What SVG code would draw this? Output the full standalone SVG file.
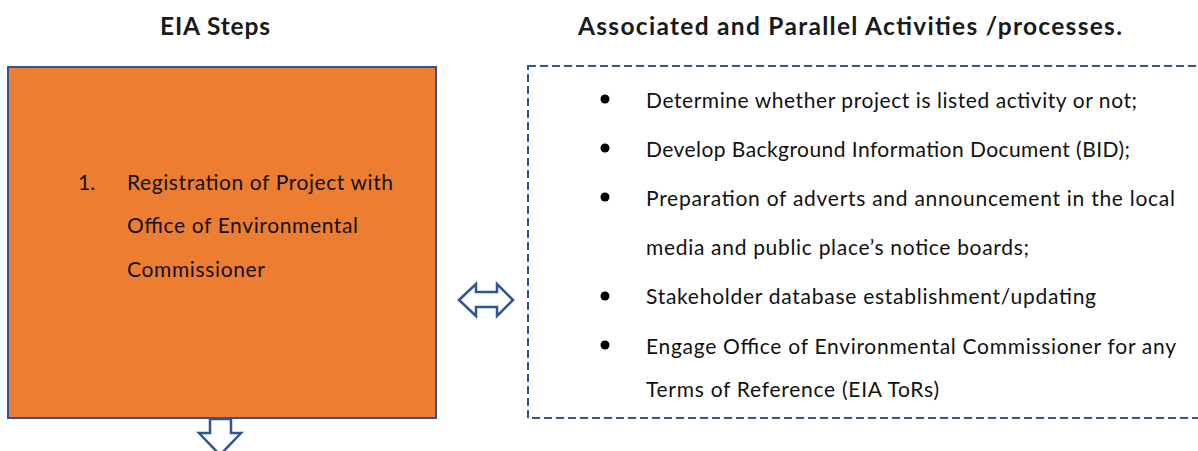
<svg xmlns="http://www.w3.org/2000/svg" width="1198" height="451" viewBox="0 0 1198 451">
<style>
.head{font-family:Lato,"Liberation Sans",sans-serif;font-weight:bold;font-size:24.5px;fill:#1a1a1a}
.body{font-family:Lato,"Liberation Sans",sans-serif;font-size:21px;fill:#111}
.arrow{fill:#fff;stroke:#2F5597;stroke-width:2.5;stroke-linejoin:miter}
</style>
<rect width="1198" height="451" fill="#fff"/>
<g id="headings">
<text class="head" x="160" y="35" textLength="110">EIA Steps</text>
<text class="head" x="578" y="35" textLength="544">Associated and Parallel Activities /processes.</text>
</g>
<g id="step1">
<rect x="8" y="67" width="428" height="351" fill="#ED7D31" stroke="#2F5597" stroke-width="2"/>
<text class="body" x="78" y="190">1.</text>
<text class="body" x="127" y="190" textLength="266">Registration of Project with</text>
<text class="body" x="127" y="233" textLength="231">Office of Environmental</text>
<text class="body" x="127" y="277" textLength="138">Commissioner</text>
</g>
<g id="activities">
<rect x="528" y="66" width="700" height="352" fill="none" stroke="#2F5597" stroke-width="2" stroke-dasharray="8,4"/>
<g fill="#000">
<circle cx="605" cy="99" r="4.5"/>
<circle cx="605" cy="148" r="4.5"/>
<circle cx="605" cy="197" r="4.5"/>
<circle cx="605" cy="296" r="4.5"/>
<circle cx="605" cy="345" r="4.5"/>
</g>
<text class="body" x="646" y="108" textLength="491">Determine whether project is listed activity or not;</text>
<text class="body" x="646" y="157" textLength="484">Develop Background Information Document (BID);</text>
<text class="body" x="646" y="206" textLength="529">Preparation of adverts and announcement in the local</text>
<text class="body" x="646" y="255" textLength="383">media and public place’s notice boards;</text>
<text class="body" x="646" y="304" textLength="450">Stakeholder database establishment/updating</text>
<text class="body" x="646" y="354" textLength="530">Engage Office of Environmental Commissioner for any</text>
<text class="body" x="646" y="397" textLength="293">Terms of Reference (EIA ToRs)</text>
</g>
<g id="connectors">
<polygon class="arrow" points="459,300 476,284 476,292 497,292 497,284 513,300 497,316 497,307 476,307 476,316"/>
<polygon class="arrow" points="210,419 231,419 231,433 241,433 220,455 199,433 210,433"/>
</g>
</svg>
